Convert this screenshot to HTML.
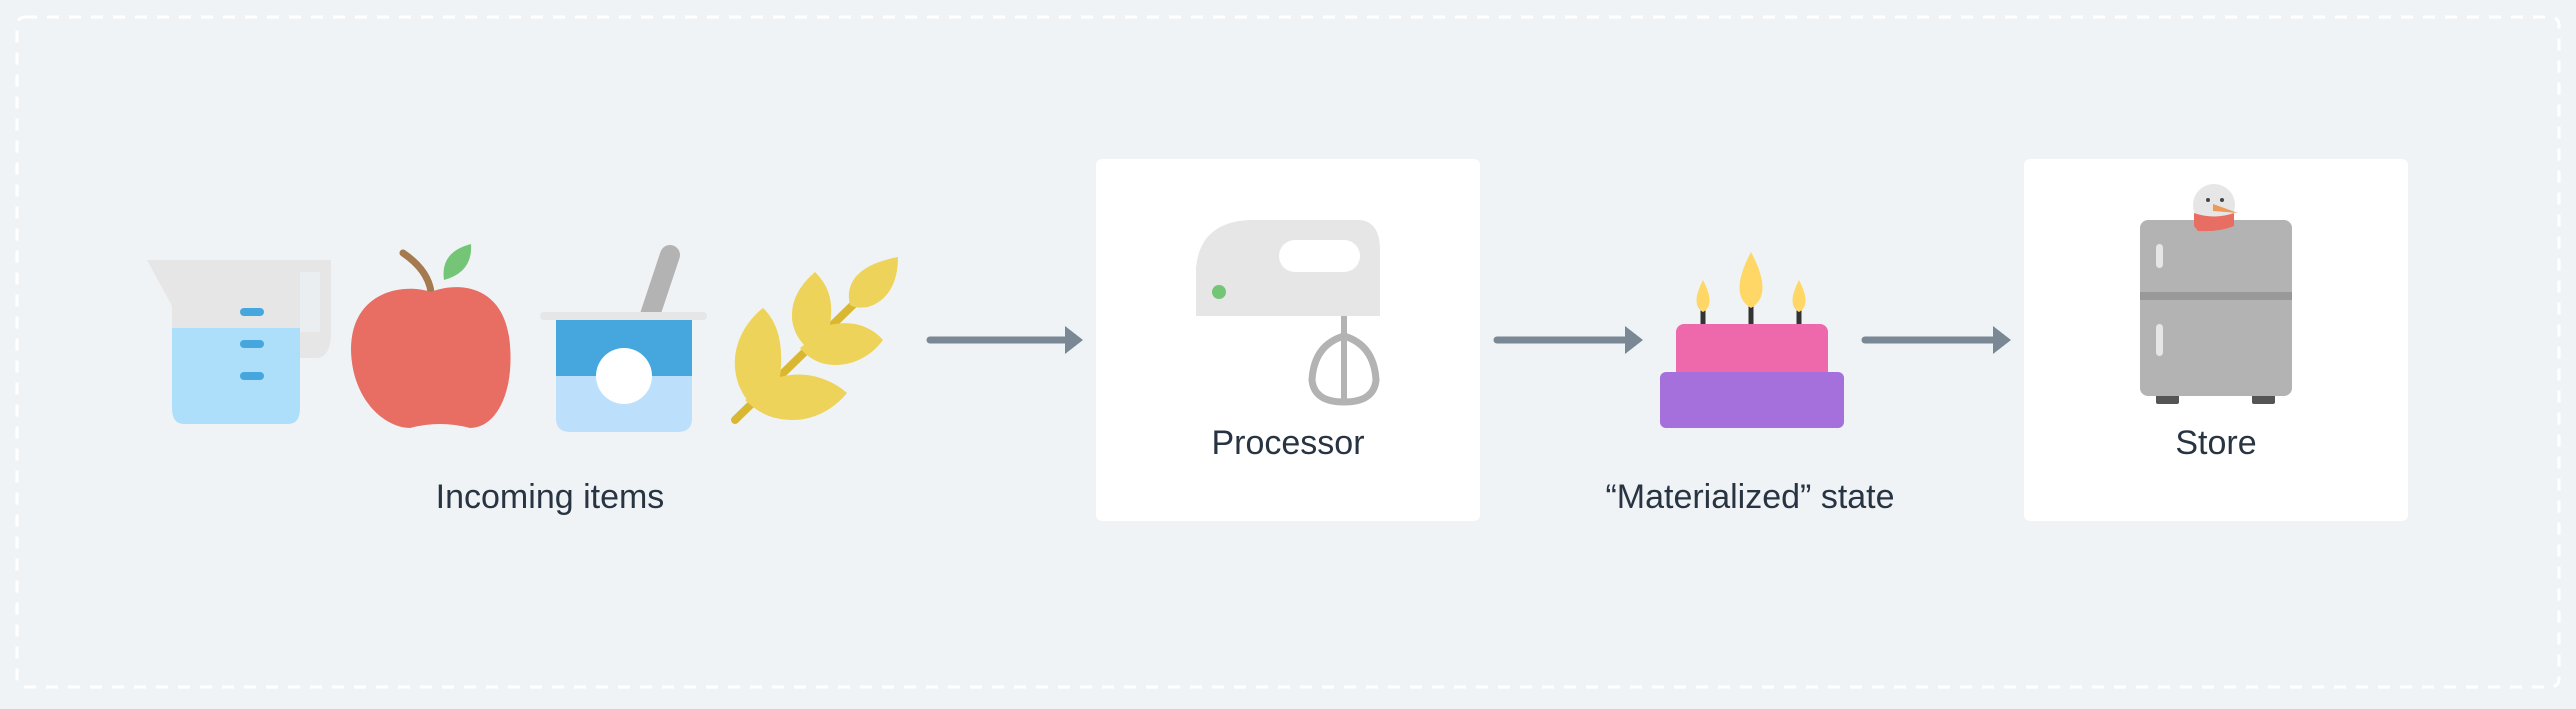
<!DOCTYPE html>
<html><head><meta charset="utf-8"><style>
html,body{margin:0;padding:0;background:#eff3f6;}
body{width:2576px;height:704px;overflow:hidden;}
svg text{font-family:"Liberation Sans",sans-serif;fill:#283442;font-size:34px;}
</style></head><body>
<svg width="2576" height="704" viewBox="0 0 2576 704" xmlns="http://www.w3.org/2000/svg">
<rect x="0" y="0" width="2576" height="704" fill="#eff3f6"/>
<rect x="17" y="17" width="2542" height="670" rx="8" fill="none" stroke="#ffffff" stroke-width="3" stroke-dasharray="12 10"/>
<!-- cards -->
<rect x="1096" y="159" width="384" height="362" rx="6" fill="#fff"/>
<rect x="2024" y="159" width="384" height="362" rx="6" fill="#fff"/>
<!-- arrows -->
<g stroke="#7a8794" stroke-width="7" stroke-linecap="round" fill="#7a8794">
<line x1="930" y1="340" x2="1068" y2="340"/>
<line x1="1497" y1="340" x2="1628" y2="340"/>
<line x1="1865" y1="340" x2="1996" y2="340"/>
</g>
<g fill="#7a8794">
<path d="M1065,326 L1083,340 L1065,354 Z"/>
<path d="M1625,326 L1643,340 L1625,354 Z"/>
<path d="M1993,326 L2011,340 L1993,354 Z"/>
</g>
<!-- jug -->
<path d="M147,260 L331,260 L331,332 Q331,356 318,358 L300,358 L300,328 L172,328 L172,306 Z" fill="#e6e6e6"/>
<rect x="300" y="272" width="20" height="60" fill="#eff3f6" opacity="0.6"/>
<path d="M172,328 L300,328 L300,408 Q300,424 288,424 L184,424 Q172,424 172,408 Z" fill="#addffa"/>
<rect x="240" y="308" width="24" height="8" rx="4" fill="#45a7dd"/>
<rect x="240" y="340" width="24" height="8" rx="4" fill="#45a7dd"/>
<rect x="240" y="372" width="24" height="8" rx="4" fill="#45a7dd"/>
<!-- apple -->
<path d="M403,253 Q428,270 431,292" stroke="#a47a4e" stroke-width="7" fill="none" stroke-linecap="round"/>
<path d="M444,280 Q440,252 471,244 Q473,272 444,280 Z" fill="#74c576"/>
<path d="M431,292 C455,282 505,282 510,345 C514,395 495,428 470,428 Q455,424 440,424 Q425,424 410,428 C385,428 352,400 351,350 C351,290 405,283 431,292 Z" fill="#e86d62"/>
<!-- yogurt -->
<line x1="670" y1="255" x2="650" y2="315" stroke="#b3b3b3" stroke-width="20" stroke-linecap="round"/>
<rect x="540" y="312" width="167" height="8" rx="4" fill="#e6e6e6"/>
<path d="M556,320 L692,320 L692,418 Q692,432 678,432 L570,432 Q556,432 556,418 Z" fill="#bcdffb"/>
<rect x="556" y="320" width="136" height="56" fill="#45a7dd"/>
<ellipse cx="624" cy="376" rx="28" ry="28" fill="#fff"/>
<!-- wheat -->
<line x1="735" y1="420" x2="858" y2="300" stroke="#dab730" stroke-width="8" stroke-linecap="round"/>
<g fill="#eed35a">
<path d="M780,377 C784,345 778,322 763,308 C745,322 733,345 735,368 C737,392 752,412 775,418 Z"/>
<path d="M780,377 C805,370 830,378 847,393 C835,408 815,420 793,420 C770,420 755,410 745,400 Z"/>
<path d="M830,325 C834,300 828,285 815,272 C800,285 791,300 792,318 C793,335 805,350 820,355 Z"/>
<path d="M830,325 C850,320 870,325 883,340 C872,355 855,365 835,365 C820,365 808,358 800,348 Z"/>
<path d="M850,305 C845,285 855,265 898,257 C898,280 890,300 868,307 C860,308 855,308 850,305 Z"/>
</g>
<!-- mixer -->
<path d="M1196,316 L1196,268 Q1200,222 1250,220 L1360,220 Q1380,222 1380,250 L1380,316 Z" fill="#e6e6e6"/>
<rect x="1279" y="240" width="81" height="32" rx="16" fill="#fff"/>
<ellipse cx="1219" cy="292" rx="7" ry="7" fill="#74c576"/>
<line x1="1344" y1="316" x2="1344" y2="400" stroke="#b3b3b3" stroke-width="6"/>
<path d="M1344,336 Q1314,345 1312,380 Q1314,402 1344,402 Q1374,402 1376,380 Q1374,345 1344,336 Z" fill="none" stroke="#b3b3b3" stroke-width="7"/>
<!-- cake -->
<g stroke="#333" stroke-width="5">
<line x1="1703" y1="305" x2="1703" y2="326"/><line x1="1751" y1="300" x2="1751" y2="326"/><line x1="1799" y1="305" x2="1799" y2="326"/>
</g>
<g fill="#ffd766">
<path d="M1703,280 Q1716,305 1703,312 Q1690,305 1703,280 Z"/>
<path d="M1751,252 Q1774,295 1751,308 Q1728,295 1751,252 Z"/>
<path d="M1799,280 Q1812,305 1799,312 Q1786,305 1799,280 Z"/>
</g>
<rect x="1676" y="324" width="152" height="55" rx="8" fill="#ed69ab"/>
<rect x="1660" y="372" width="184" height="56" rx="6" fill="#a56fdc"/>
<!-- fridge -->
<rect x="2156" y="392" width="23" height="12" rx="2" fill="#555"/>
<rect x="2252" y="392" width="23" height="12" rx="2" fill="#555"/>
<rect x="2140" y="220" width="152" height="176" rx="8" fill="#b3b3b3"/>
<rect x="2140" y="292" width="152" height="8" fill="#999"/>
<rect x="2156" y="244" width="7" height="24" rx="3.5" fill="#e6e6e6"/>
<rect x="2156" y="324" width="7" height="32" rx="3.5" fill="#e6e6e6"/>
<circle cx="2214" cy="205" r="21" fill="#e6e6e6"/>
<circle cx="2208" cy="200" r="2" fill="#444"/><circle cx="2222" cy="200" r="2" fill="#444"/>
<path d="M2194,213 Q2214,220 2234,213 L2234,226 Q2220,232 2198,231 L2194,226 Z" fill="#e86d62"/>
<path d="M2213,204 L2238,213 L2213,211 Z" fill="#ec9a5a"/>
<!-- labels -->
<text x="550" y="508" text-anchor="middle">Incoming items</text>
<text x="1288" y="454" text-anchor="middle">Processor</text>
<text x="1750" y="508" text-anchor="middle">“Materialized” state</text>
<text x="2216" y="454" text-anchor="middle">Store</text>
</svg>
</body></html>
